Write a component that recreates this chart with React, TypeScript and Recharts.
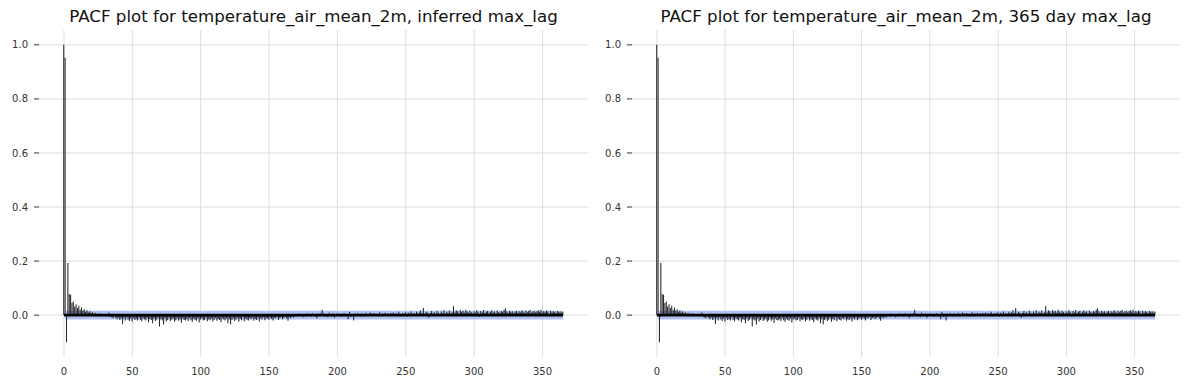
import React from "react";
import { ComposedChart, Bar, Area, Line, XAxis, YAxis, CartesianGrid } from "recharts";

// PACF values for lags 0..365
const pacfValues: number[] = [
  // 0-29
  1.0, 0.952, -0.1, 0.193, 0.078, 0.075, 0.045, 0.05, 0.032, 0.04, 0.026, 0.035, 0.02, 0.028, 0.016, 0.022, 0.012, 0.018, 0.01, 0.014, 0.008, 0.011, 0.005, 0.009, 0.003, 0.007, 0.002, 0.006, 0.001, 0.004,
  // 30-59
  0.003, -0.004, 0.002, 0.01, -0.006, -0.008, -0.012, 0.003, -0.01, -0.015, -0.009, -0.018, -0.012, -0.033, -0.01, -0.02, -0.008, -0.016, -0.022, -0.012, -0.025, -0.01, -0.018, -0.014, -0.02, -0.009, -0.017, -0.023, -0.012, -0.015,
  // 60-89
  -0.02, -0.011, -0.026, -0.014, -0.018, -0.03, -0.012, -0.022, -0.016, -0.009, -0.042, -0.015, -0.02, -0.035, -0.012, -0.024, -0.018, -0.01, -0.022, -0.016, -0.013, -0.025, -0.019, -0.011, -0.021, -0.015, -0.028, -0.012, -0.018, -0.02,
  // 90-119
  -0.014, -0.022, -0.01, -0.019, -0.025, -0.013, -0.017, -0.021, -0.011, -0.027, -0.016, -0.012, -0.02, -0.018, -0.009, -0.023, -0.015, -0.019, -0.012, -0.024, -0.017, -0.01, -0.021, -0.014, -0.018, -0.026, -0.012, -0.016, -0.02, -0.011,
  // 120-149
  -0.03, -0.015, -0.034, -0.018, -0.012, -0.022, -0.016, -0.01, -0.025, -0.014, -0.019, -0.008, -0.023, -0.013, -0.017, -0.02, -0.011, -0.015, -0.009, -0.021, -0.014, -0.018, -0.01, -0.024, -0.012, -0.016, -0.008, -0.019, -0.013, -0.011,
  // 150-179
  -0.017, -0.009, -0.014, -0.02, -0.01, -0.012, -0.006, -0.018, -0.011, -0.008, -0.015, -0.01, -0.006, -0.013, -0.021, -0.008, -0.012, -0.005, -0.009, -0.004, 0.003, -0.006, 0.005, -0.003, 0.004, -0.008, 0.002, -0.005, 0.006, -0.002,
  // 180-209
  0.004, -0.006, 0.007, -0.003, 0.002, -0.012, 0.005, -0.004, 0.008, 0.02, 0.006, -0.005, 0.003, -0.008, 0.009, 0.002, -0.004, 0.006, -0.01, 0.004, 0.007, -0.003, 0.005, -0.006, 0.002, 0.008, -0.004, 0.003, -0.015, 0.012,
  // 210-239
  -0.006, 0.004, -0.02, 0.006, -0.003, 0.008, 0.002, -0.005, 0.007, 0.003, -0.004, 0.009, 0.004, -0.002, 0.01, 0.006, -0.003, 0.008, 0.002, 0.005, -0.004, 0.011, 0.003, 0.007, -0.002, 0.009, 0.004, 0.006, -0.003, 0.008,
  // 240-269
  0.005, 0.01, -0.002, 0.007, 0.004, 0.012, 0.003, -0.004, 0.008, 0.006, 0.011, -0.006, 0.009, 0.005, 0.013, 0.004, 0.008, -0.003, 0.012, 0.006, 0.01, 0.018, 0.007, 0.026, 0.005, 0.012, 0.009, -0.01, 0.008, 0.015,
  // 270-299
  0.006, 0.011, 0.004, 0.016, 0.009, -0.004, 0.013, 0.007, 0.018, 0.005, 0.012, 0.008, 0.017, 0.006, 0.011, 0.034, 0.01, 0.018, 0.014, 0.007, 0.019, 0.012, 0.016, 0.009, 0.02, 0.013, 0.008, 0.017, 0.011, 0.006,
  // 300-329
  0.014, 0.009, 0.018, 0.012, -0.006, 0.015, 0.01, 0.019, 0.008, 0.013, 0.016, 0.007, 0.012, 0.018, 0.01, 0.014, 0.006, 0.017, 0.011, 0.009, 0.015, 0.012, 0.02, 0.025, 0.013, 0.008, 0.016, 0.011, 0.014, 0.007,
  // 330-365
  0.012, 0.016, 0.009, 0.014, 0.01, 0.018, 0.013, 0.008, 0.017, 0.011, 0.015, 0.019, 0.009, 0.013, 0.016, 0.01, 0.014, 0.018, 0.012, 0.02, 0.009, 0.015, 0.011, 0.017, 0.013, -0.004, 0.016, 0.01, 0.014, 0.012, 0.008, 0.015, 0.011, 0.013, 0.009, 0.012,
];

// Confidence band half-width (approx. 1.96/sqrt(n))
const CONF = 0.0165;

const xTicks: number[] = [0, 50, 100, 150, 200, 250, 300, 350];
const yTicks: number[] = [0, 0.2, 0.4, 0.6, 0.8, 1.0];
const xDomain: [number, number] = [-18.25, 383.25];
const yDomain: [number, number] = [-0.155, 1.055];

const titles: string[] = [
  "PACF plot for temperature_air_mean_2m, inferred max_lag",
  "PACF plot for temperature_air_mean_2m, 365 day max_lag",
];

const rows = pacfValues.map((v, i) => ({
  lag: i,
  pacf: v,
  band: i >= 1 ? [-CONF, CONF] : null,
  zero: 0,
}));

const FONT = "'DejaVu Sans', 'Liberation Sans', sans-serif";

const Stem = (props: any) => {
  const { x, y, width, height } = props;
  if (x == null || y == null) return null;
  const cx = x + width / 2;
  return <line x1={cx} x2={cx} y1={y} y2={y + height} stroke="#262626" strokeWidth={1.05} />;
};

type PanelProps = { left: number; width: number; yAxisWidth: number; marginRight: number };

const Panel = ({ left, width, yAxisWidth, marginRight }: PanelProps) => (
  <div style={{ position: "absolute", left, top: 0, width, height: 390 }}>
    <ComposedChart
      width={width}
      height={390}
      data={rows}
      margin={{ top: 30, right: marginRight, bottom: 8, left: 0 }}
    >
      <CartesianGrid
        stroke="#dddddd"
        strokeWidth={1}
        horizontalValues={yTicks}
        verticalValues={xTicks}
      />
      <XAxis
        type="number"
        dataKey="lag"
        domain={xDomain}
        ticks={xTicks}
        allowDataOverflow
        axisLine={false}
        tickLine={false}
        tickSize={6}
        tickMargin={5}
        height={25}
        tick={{ fontSize: 10, fill: "#333", fontFamily: FONT }}
        interval={0}
      />
      <YAxis
        type="number"
        domain={yDomain}
        ticks={yTicks}
        allowDataOverflow
        width={yAxisWidth}
        axisLine={false}
        tickLine={{ stroke: "#333" }}
        tickSize={5}
        tickMargin={6}
        tickFormatter={(v: number) => v.toFixed(1)}
        tick={{ fontSize: 10, fill: "#333", fontFamily: FONT }}
        interval={0}
      />
      <Area
        dataKey="band"
        type="linear"
        stroke="none"
        fill="#b0c2f4"
        fillOpacity={1}
        isAnimationActive={false}
        dot={false}
        activeDot={false}
      />
      <Bar dataKey="pacf" barSize={1} fill="#262626" shape={<Stem />} isAnimationActive={false} />
      <Line
        dataKey="zero"
        type="linear"
        stroke="#000"
        strokeWidth={2.6}
        dot={false}
        activeDot={false}
        isAnimationActive={false}
      />
    </ComposedChart>
  </div>
);

export default function App() {
  return (
    <div style={{ position: "absolute", left: 0, top: 0, width: 1189, height: 390, background: "#fff" }}>
      <Panel left={0} width={594} yAxisWidth={39} marginRight={6} />
      <Panel left={594} width={595} yAxisWidth={38} marginRight={9} />
      <svg
        width={1189}
        height={40}
        style={{ position: "absolute", left: 0, top: 0, pointerEvents: "none" }}
      >
        <text x={313.5} y={22} textAnchor="middle" fontFamily={FONT} fontSize={16.67} fill="#111">
          {titles[0]}
        </text>
        <text x={906} y={22} textAnchor="middle" fontFamily={FONT} fontSize={16.67} fill="#111">
          {titles[1]}
        </text>
      </svg>
    </div>
  );
}
